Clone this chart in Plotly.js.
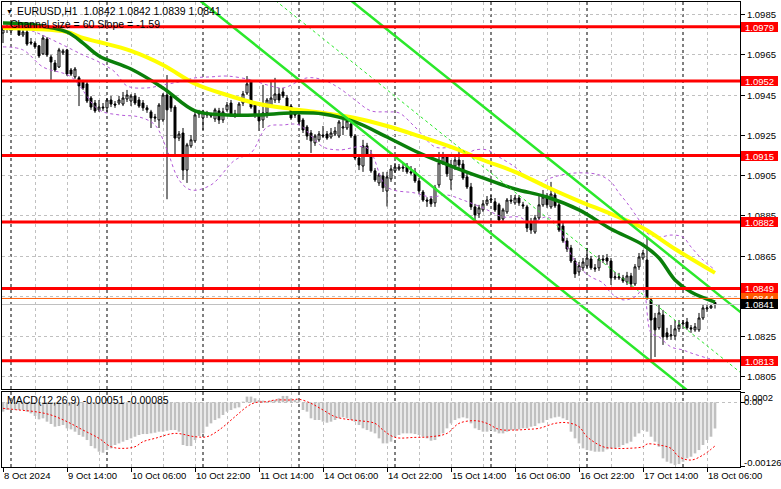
<!DOCTYPE html>
<html><head><meta charset="utf-8">
<script src="https://cdn.plot.ly/plotly-3.0.1.min.js"></script>
<style>html,body{margin:0;padding:0;background:#fff;}#chart{width:781px;height:489px;}</style>
</head><body><div id="chart"></div>
<script>
// ---- candles EURUSD H1, bar 0 = 8 Oct 22:00 ----
const open = [1.09759,1.09779,1.09769,1.09794,1.09794,1.09749,1.09764,1.09714,1.09709,1.09695,
1.09655,1.09729,1.0964,1.0961,1.0959,1.0966,1.09675,1.09575,1.09541,1.09536,
1.09516,1.09506,1.09436,1.09411,1.09377,1.09391,1.09387,1.09426,1.09406,1.09411,
1.09406,1.09431,1.09421,1.09446,1.09426,1.09411,1.09387,1.09367,1.09342,1.09327,
1.09327,1.09451,1.09446,1.09391,1.09237,1.09262,1.09078,1.09198,1.09223,1.09357,
1.09337,1.09362,1.09352,1.09332,1.09372,1.09327,1.09377,1.09411,1.09357,1.09352,
1.09411,1.09461,1.09516,1.09401,1.09352,1.09327,1.09362,1.09401,1.09426,1.09456,
1.09466,1.09436,1.09396,1.09357,1.09352,1.09327,1.09292,1.09262,1.09213,1.09228,
1.09252,1.09257,1.09242,1.09257,1.09247,1.09287,1.09287,1.09307,1.09247,1.09138,
1.09098,1.09198,1.09148,1.09074,1.09014,1.09049,1.08974,1.09034,1.09074,1.09083,
1.09093,1.09098,1.09069,1.09069,1.09024,1.08969,1.08929,1.08934,1.08915,1.09004,
1.09113,1.09143,1.09029,1.09098,1.09128,1.09108,1.09044,1.08994,1.08895,1.0886,
1.0888,1.0891,1.08929,1.0892,1.08905,1.08835,1.0887,1.08929,1.08915,1.08939,
1.08905,1.08895,1.0882,1.0877,1.0884,1.08905,1.08944,1.08895,1.08954,1.08905,
1.088,1.08726,1.08691,1.08626,1.08572,1.08592,1.08602,1.08636,1.08592,1.08592,
1.08636,1.08641,1.08626,1.08542,1.08542,1.08542,1.08522,1.08552,1.08512,1.08597,
1.08641,1.08631,1.08433,1.08343,1.08294,1.08358,1.08269,1.08254,1.08254,1.08289,
1.08313,1.08323,1.08294,1.08284,1.08284,1.08343,1.08388,1.08393,1.0842];
const close = [1.09779,1.09784,1.09794,1.09789,1.09749,1.09764,1.09704,1.09709,1.0969,1.09645,
1.09734,1.0965,1.09615,1.09575,1.09675,1.0967,1.09555,1.09555,1.0958,1.09496,
1.09486,1.09421,1.09391,1.09372,1.09391,1.09387,1.09426,1.09406,1.09401,1.09426,
1.09436,1.09451,1.09446,1.09411,1.09396,1.09387,1.09377,1.09337,1.09337,1.09401,
1.09451,1.09377,1.09387,1.09237,1.09257,1.09078,1.09203,1.09228,1.09352,1.09362,
1.09367,1.09352,1.09347,1.09377,1.09327,1.09367,1.09401,1.09352,1.09352,1.09406,
1.09456,1.09506,1.09391,1.09352,1.09322,1.09362,1.09426,1.09436,1.09456,1.09426,
1.09446,1.09391,1.09337,1.09352,1.09317,1.09277,1.09247,1.09223,1.09247,1.09257,
1.09247,1.09237,1.09262,1.09272,1.09317,1.09292,1.09322,1.09247,1.09138,1.09103,
1.09198,1.09153,1.09074,1.09029,1.09054,1.0899,1.09044,1.09083,1.09093,1.09093,
1.09088,1.09069,1.09064,1.09024,1.08974,1.08929,1.08924,1.0891,1.0899,1.09113,
1.09143,1.09059,1.09103,1.09128,1.09103,1.09039,1.08994,1.08895,1.08855,1.0889,
1.0891,1.08929,1.08934,1.0888,1.0883,1.0888,1.08929,1.08924,1.08939,1.08915,
1.089,1.0879,1.0878,1.0884,1.08905,1.08944,1.08905,1.08959,1.089,1.0878,
1.08726,1.08686,1.08626,1.08562,1.08602,1.08621,1.08641,1.08592,1.08587,1.08636,
1.08631,1.08626,1.08542,1.08547,1.08547,1.08527,1.08552,1.08512,1.08597,1.08646,
1.08666,1.08443,1.08333,1.08284,1.08368,1.08249,1.08249,1.08259,1.08289,1.08308,
1.08318,1.08294,1.08289,1.08299,1.08343,1.08393,1.08393,1.08403,1.0841];
const high = [1.09789,1.09799,1.09804,1.09809,1.09804,1.09784,1.09774,1.09734,1.09719,1.09699,
1.09749,1.09739,1.0965,1.09625,1.09685,1.0968,1.0968,1.09585,1.0959,1.09545,
1.09526,1.09516,1.09446,1.09426,1.09426,1.09411,1.09436,1.09446,1.09421,1.09446,
1.09466,1.09476,1.09456,1.09461,1.09441,1.09426,1.09401,1.09377,1.09357,1.09411,
1.09461,1.0955,1.09456,1.09401,1.09272,1.09287,1.09213,1.09252,1.09367,1.09377,
1.09377,1.09372,1.09362,1.09387,1.09387,1.09387,1.09416,1.09426,1.09377,1.09416,
1.09471,1.09545,1.09526,1.09411,1.09377,1.09501,1.09436,1.09516,1.09536,1.09486,
1.09486,1.09451,1.09406,1.09377,1.09362,1.09337,1.09302,1.09277,1.09257,1.09272,
1.09297,1.09272,1.09287,1.09292,1.09327,1.09327,1.09347,1.09327,1.09257,1.09153,
1.09228,1.09213,1.09178,1.09088,1.09064,1.09069,1.09069,1.09103,1.09113,1.09108,
1.09113,1.09113,1.09098,1.09088,1.09039,1.08979,1.08943,1.08949,1.09004,1.09168,
1.09168,1.09153,1.09128,1.09153,1.09173,1.09128,1.09064,1.09014,1.0891,1.08905,
1.08929,1.08949,1.08954,1.08939,1.08915,1.0889,1.08939,1.08954,1.08954,1.08954,
1.0892,1.08905,1.0884,1.08855,1.08954,1.08979,1.08964,1.09019,1.08979,1.08915,
1.0882,1.08741,1.08706,1.08641,1.08621,1.08641,1.08691,1.08651,1.08611,1.08656,
1.08656,1.08661,1.08641,1.08572,1.08567,1.08557,1.08572,1.08567,1.08611,1.08666,
1.08681,1.08741,1.08443,1.08368,1.08408,1.08383,1.08294,1.08308,1.08333,1.08333,
1.08333,1.08343,1.08308,1.08318,1.08368,1.08408,1.08408,1.08413,1.0842];
const low = [1.09709,1.09759,1.09759,1.09774,1.09744,1.09739,1.09695,1.09699,1.0968,1.09635,
1.0965,1.0964,1.09526,1.09565,1.09585,1.0965,1.09545,1.09545,1.09531,1.09396,
1.09476,1.09411,1.09377,1.09362,1.09367,1.09372,1.09367,1.09391,1.09387,1.09401,
1.09396,1.09416,1.09396,1.09401,1.09387,1.09372,1.09362,1.09287,1.09317,1.09287,
1.09317,1.08933,1.09367,1.09153,1.09222,1.09029,1.09014,1.09188,1.09213,1.09337,
1.09277,1.09337,1.09337,1.09317,1.09307,1.09312,1.09367,1.09342,1.09337,1.09342,
1.09396,1.09451,1.09382,1.09337,1.09272,1.09287,1.09337,1.09391,1.09411,1.09411,
1.09436,1.09377,1.09327,1.09337,1.09302,1.09262,1.09228,1.09163,1.09198,1.09218,
1.09237,1.09228,1.09233,1.09247,1.09237,1.09252,1.09277,1.09237,1.09128,1.09078,
1.09069,1.09143,1.09064,1.09019,1.08999,1.08969,1.08897,1.09019,1.09064,1.09074,
1.09069,1.09059,1.09054,1.09014,1.08959,1.0892,1.08895,1.08895,1.08895,1.0899,
1.09103,1.09044,1.0898,1.09078,1.09088,1.09029,1.08984,1.0888,1.0883,1.0884,
1.0887,1.089,1.08915,1.0887,1.0882,1.08825,1.0886,1.0891,1.08905,1.089,
1.08885,1.0877,1.08761,1.08761,1.0883,1.08895,1.0889,1.08885,1.0889,1.0877,
1.08716,1.08671,1.08616,1.08542,1.08552,1.08577,1.08592,1.08582,1.08572,1.08577,
1.08616,1.08607,1.08507,1.08532,1.08532,1.08517,1.08507,1.08497,1.08502,1.08582,
1.08631,1.08433,1.08125,1.08149,1.08284,1.08209,1.08234,1.08234,1.08234,1.08274,
1.08303,1.08284,1.08269,1.08274,1.08274,1.08333,1.08373,1.08388,1.0839];

// ---- moving averages (read at sample bars) ----
const yellowBars = [0,8,16,20,24,32,40,48,56,64,72,80,88,96,104,112,120,128,136,144,152,160,168,178];
const yellowMA = [1.09784,1.09779,1.09764,1.09734,1.09714,1.0967,1.096,1.09507,1.09451,1.09406,1.09382,1.09362,1.09337,1.09297,1.09247,1.09193,1.09128,1.09069,1.08994,1.08924,1.0886,1.0879,1.08686,1.08567];
const greenBars = [0,8,16,20,24,32,40,48,56,64,72,80,88,96,104,112,120,128,136,144,152,160,164,168,172,178];
const greenMA = [1.09809,1.09799,1.09764,1.09709,1.09645,1.0958,1.09486,1.09372,1.09352,1.09352,1.09362,1.09357,1.09317,1.09242,1.09163,1.09098,1.09039,1.08984,1.08944,1.0888,1.08785,1.08706,1.08641,1.08532,1.08472,1.08422];

// ---- bands (purple dotted) ----
const upBars = [0,8,14,20,24,28,31,36,40,44,48,52,56,62,66,70,76,80,84,88,92,96,99,103,108,112,116,118,121,124,128,131,134,137,141,145,149,152,154,156,159,161,164,167,170,172,175,178];
const upBand = [1.09814,1.09764,1.09709,1.0965,1.09615,1.09565,1.09496,1.09486,1.09501,1.09516,1.09536,1.09541,1.09545,1.09526,1.09501,1.09486,1.09536,1.09526,1.09486,1.09426,1.09372,1.09367,1.09362,1.09292,1.09193,1.09188,1.09163,1.09178,1.09178,1.09143,1.09093,1.09044,1.09014,1.09039,1.09059,1.09064,1.09054,1.09019,1.08964,1.08915,1.0883,1.08765,1.08745,1.08755,1.08745,1.08696,1.08631,1.08582];
const loBars = [0,5,10,17,24,29,34,38,41,44,47,52,58,62,66,70,74,80,84,91,96,103,107,111,115,120,125,129,132,136,139,141,144,147,150,152,155,158,160,162,164,167,170,172,176,178];
const loBand = [1.0969,1.09675,1.0959,1.09541,1.09377,1.09352,1.09342,1.09302,1.09178,1.09029,1.08979,1.09004,1.09128,1.09163,1.09292,1.09302,1.09302,1.09193,1.09178,1.09188,1.08994,1.08964,1.08944,1.08954,1.08929,1.0889,1.08845,1.08845,1.08815,1.08845,1.08795,1.08696,1.08597,1.08547,1.08517,1.08467,1.08433,1.08448,1.08483,1.08269,1.08249,1.08199,1.08184,1.08169,1.08144,1.08134];

// ---- channel (size 60, slope -1.59) ----
const channelBars = [40, 185];
const channelUpper = [1.10667, 1.08362];
const channelMid = [1.10367, 1.08062];
const channelLower = [1.10067, 1.07762];

// ---- levels ----
const redLevels = [1.0979, 1.0952, 1.0915, 1.0882, 1.0849, 1.0813];
const askPrice = 1.0844, bidPrice = 1.0841;
const priceTicks = [1.0805,1.0825,1.0845,1.0865,1.0885,1.0905,1.0925,1.0945,1.0965,1.0985];

// ---- MACD(12,26,9) ----
const macdHist = [-0.000182,-0.00015,-0.00015,-0.00015,-0.00015,-0.00015,-0.000182,-0.000215,-0.000267,-0.000332,
-0.000312,-0.000377,-0.000423,-0.000475,-0.000462,-0.000442,-0.000507,-0.000527,-0.000572,-0.000637,
-0.00067,-0.000735,-0.000852,-0.000897,-0.000962,-0.000982,-0.00093,-0.000897,-0.000832,-0.0008,
-0.000767,-0.000735,-0.000702,-0.00067,-0.000637,-0.000618,-0.000618,-0.000605,-0.000592,-0.000572,
-0.000572,-0.000553,-0.00054,-0.00054,-0.000572,-0.000832,-0.000852,-0.000852,-0.000735,-0.000657,
-0.000605,-0.000475,-0.00041,-0.000345,-0.000312,-0.000247,-0.000182,-0.00015,-0.000117,-0.000098,
0.000013,0.000111,0.000111,0.000078,0.000046,0.000033,0.000013,0.000033,0.000046,0.000078,
0.000124,0.000124,0.000078,0.000046,0.000033,-0.00015,-0.000182,-0.000312,-0.000345,-0.000345,
-0.000377,-0.000397,-0.000377,-0.000345,-0.000312,-0.000293,-0.000312,-0.000345,-0.000377,-0.000442,
-0.000507,-0.00054,-0.000572,-0.000605,-0.000702,-0.0008,-0.0008,-0.000767,-0.00067,-0.000637,
-0.000605,-0.000605,-0.000605,-0.000618,-0.000637,-0.00067,-0.000702,-0.000748,-0.000735,-0.00067,
-0.000605,-0.000507,-0.00041,-0.000345,-0.000312,-0.000293,-0.000312,-0.00041,-0.000507,-0.00054,
-0.000572,-0.000572,-0.00054,-0.000572,-0.000605,-0.000605,-0.000572,-0.00054,-0.00054,-0.000527,
-0.000507,-0.000507,-0.000475,-0.000462,-0.00041,-0.000397,-0.000345,-0.000312,-0.000293,-0.00028,
-0.000312,-0.000345,-0.000572,-0.000702,-0.0008,-0.000897,-0.00093,-0.000943,-0.000962,-0.000962,
-0.000962,-0.000917,-0.000897,-0.000897,-0.000878,-0.000832,-0.0008,-0.000767,-0.00067,-0.000605,
-0.00054,-0.000572,-0.00067,-0.000767,-0.000865,-0.001092,-0.001157,-0.00119,-0.001222,-0.001203,
-0.001157,-0.001092,-0.00106,-0.000995,-0.00093,-0.000832,-0.000735,-0.00067,-0.00051];
const signalBars = [0,4,8,12,16,20,24,27,30,33,35,38,43,48,51,54,58,61,63,66,68,72,74,77,80,83,86,89,93,95,98,103,107,111,114,118,121,124,128,131,134,138,141,144,146,150,153,156,160,161,164,167,169,172,175,178];
const macdSignal = [-0.000117,-0.00015,-0.000182,-0.000247,-0.000377,-0.00054,-0.000702,-0.000865,-0.000897,-0.000865,-0.000767,-0.000702,-0.000605,-0.00067,-0.00067,-0.00054,-0.00028,-0.000085,-0.000007,0.000013,0.000045,0.000045,0.000059,-0.00002,-0.00015,-0.00028,-0.000332,-0.000358,-0.00041,-0.00054,-0.000683,-0.000683,-0.00067,-0.000605,-0.00041,-0.000358,-0.00041,-0.000527,-0.00054,-0.000527,-0.000507,-0.00041,-0.000397,-0.000475,-0.00067,-0.000865,-0.000897,-0.000897,-0.000865,-0.000813,-0.000832,-0.000897,-0.00106,-0.001125,-0.001027,-0.00085];

// ---- time axis ----
const labelBars = [0,16,32,48,64,80,96,112,128,144,160,176];
const labelTexts = ['8 Oct 2024','9 Oct 14:00','10 Oct 06:00','10 Oct 22:00','11 Oct 14:00','14 Oct 06:00','14 Oct 22:00','15 Oct 14:00','16 Oct 06:00','16 Oct 22:00','17 Oct 14:00','18 Oct 06:00'];
const dayStarts = [2,26,50,74,98,122,146,170];

const bars = close.map((_, i) => i);
const FONT = 'Liberation Sans, Arial, sans-serif';
const GRID = '#c0c0c0';

const traces = [
  {type:'scatter', mode:'lines', x:upBars, y:upBand, xaxis:'x2', yaxis:'y', line:{color:'#b45ad8', width:1, dash:'3px,3px', shape:'spline'}},
  {type:'scatter', mode:'lines', x:loBars, y:loBand, xaxis:'x2', yaxis:'y', line:{color:'#b45ad8', width:1, dash:'3px,3px', shape:'spline'}},
  {type:'scatter', mode:'lines', x:yellowBars, y:yellowMA, xaxis:'x2', yaxis:'y', line:{color:'#ffff00', width:4, shape:'spline'}},
  {type:'scatter', mode:'lines', x:greenBars, y:greenMA, xaxis:'x2', yaxis:'y', line:{color:'#0a7f0a', width:3.5, shape:'spline'}},
  {type:'candlestick', x:bars, open:open, high:high, low:low, close:close, xaxis:'x2', yaxis:'y',
   increasing:{line:{color:'#000000', width:1}, fillcolor:'#ffffff'},
   decreasing:{line:{color:'#000000', width:1}, fillcolor:'#000000'}, whiskerwidth:0, hoverinfo:'skip'},
  {type:'scatter', mode:'lines', x:channelBars, y:channelUpper, xaxis:'x2', yaxis:'y', line:{color:'#2be82b', width:2.5}},
  {type:'scatter', mode:'lines', x:channelBars, y:channelLower, xaxis:'x2', yaxis:'y', line:{color:'#2be82b', width:2.5}},
  {type:'scatter', mode:'lines', x:channelBars, y:channelMid, xaxis:'x2', yaxis:'y', line:{color:'#2be82b', width:1, dash:'3px,3px'}},
  {type:'bar', x:bars, y:macdHist, xaxis:'x', yaxis:'y2', marker:{color:'#c0c0c0', line:{width:0}}},
  {type:'scatter', mode:'lines', x:signalBars, y:macdSignal, xaxis:'x', yaxis:'y2', line:{color:'#ff0000', width:1, dash:'2px,2px', shape:'spline'}}
];

const shapes = [];
dayStarts.forEach(d => shapes.push({type:'line', xref:'x', yref:'paper', x0:d, x1:d, y0:0, y1:1, layer:'below', line:{color:'#000000', width:1, dash:'3px,3px'}}));
redLevels.forEach(v => shapes.push({type:'line', xref:'paper', yref:'y', x0:0, x1:1, y0:v, y1:v, layer:'above', line:{color:'#ff0000', width:3}}));
shapes.push({type:'line', xref:'paper', yref:'y', x0:0, x1:1, y0:askPrice, y1:askPrice, layer:'above', line:{color:'#ff5a00', width:1}});
shapes.push({type:'line', xref:'paper', yref:'y', x0:0, x1:1, y0:bidPrice, y1:bidPrice, layer:'above', line:{color:'#c0c0c0', width:1}});

const px = x => (x - 2) / 738;
const py = y => (467 - y) / 465;
const ann = [];
function priceBox(v, bg) {
  ann.push({xref:'paper', yref:'y', x:1, y:v, xanchor:'left', yanchor:'middle', xshift:1, text:v.toFixed(4), showarrow:false,
    bgcolor:bg, font:{family:FONT, size:9.5, color:'#ffffff'}, width:37, height:10, borderpad:0, borderwidth:0, align:'center'});
}
redLevels.forEach(v => priceBox(v, '#ff0000'));
priceBox(askPrice, '#ff5a00');
priceBox(bidPrice, '#000000');
const txt = (x, y, t, size) => ann.push({xref:'paper', yref:'paper', x:px(x), y:py(y), xanchor:'left', yanchor:'middle', text:t, showarrow:false, borderpad:0, borderwidth:0, font:{family:FONT, size:size || 10.5, color:'#000000'}});
txt(6, 11, '▼', 7);
txt(17, 11, 'EURUSD,H1\u00a0\u00a01.0842 1.0842 1.0839 1.0841');
txt(10, 24, 'Channel size = 60 Slope = -1.59');
txt(7, 400, 'MACD(12,26,9) -0.00051 -0.00085');
ann.push({xref:'paper', yref:'paper', x:1, y:py(397), xanchor:'left', yanchor:'middle', xshift:3, text:'0.0002', showarrow:false, borderpad:0, font:{family:FONT, size:9.5, color:'#000'}});
ann.push({xref:'paper', yref:'paper', x:1, y:py(401), xanchor:'left', yanchor:'middle', xshift:3, text:'0.00', showarrow:false, borderpad:0, font:{family:FONT, size:9.5, color:'#000'}});
ann.push({xref:'paper', yref:'paper', x:1, y:py(462), xanchor:'left', yanchor:'middle', xshift:3, text:'-0.00126', showarrow:false, borderpad:0, font:{family:FONT, size:9.5, color:'#000'}});

const xGrid = {showgrid:true, gridcolor:GRID, griddash:'3px,3px', gridwidth:1, zeroline:false,
  minor:{dtick:8, tick0:0, showgrid:true, gridcolor:GRID, griddash:'3px,3px', gridwidth:1, ticks:''}};

const layout = {
  width:781, height:489, margin:{l:2, r:41, t:2, b:22},
  paper_bgcolor:'#ffffff', plot_bgcolor:'#ffffff', showlegend:false, hovermode:false, dragmode:false,
  font:{family:FONT, size:9.5, color:'#000000'}, bargap:0.33,
  xaxis: Object.assign({domain:[0,1], anchor:'y2', range:[-0.25,184.25], tickmode:'array', tickvals:labelBars, ticktext:labelTexts,
    ticks:'outside', ticklen:4, tickcolor:'#000', ticklabelposition:'outside right', showline:true, linecolor:'#000', linewidth:1, mirror:true,
    rangeslider:{visible:false}, fixedrange:true}, xGrid),
  xaxis2: Object.assign({domain:[0,1], anchor:'y', matches:'x', tickmode:'array', tickvals:labelBars, showticklabels:false, ticks:'',
    showline:true, linecolor:'#000', linewidth:1, mirror:true, rangeslider:{visible:false}, fixedrange:true}, xGrid),
  yaxis:{domain:[0.1677,1], anchor:'x2', side:'right', range:[1.0799,1.09913], tickmode:'array', tickvals:priceTicks, tickformat:'.4f',
    ticks:'outside', ticklen:4, tickcolor:'#000', showline:true, linecolor:'#000', linewidth:1, mirror:true,
    showgrid:true, gridcolor:GRID, griddash:'3px,3px', zeroline:false, fixedrange:true},
  yaxis2:{domain:[0,0.1613], anchor:'x', side:'right', range:[-0.00126,0.000201], tickmode:'array', tickvals:[0.0002,0,-0.00126], ticktext:['','',''],
    ticks:'outside', ticklen:4, tickcolor:'#000', showline:true, linecolor:'#000', linewidth:1, mirror:true,
    showgrid:true, gridcolor:GRID, griddash:'3px,3px', zeroline:false, fixedrange:true},
  shapes:shapes, annotations:ann
};
Plotly.newPlot('chart', traces, layout, {displayModeBar:false, staticPlot:true});
</script></body></html>
